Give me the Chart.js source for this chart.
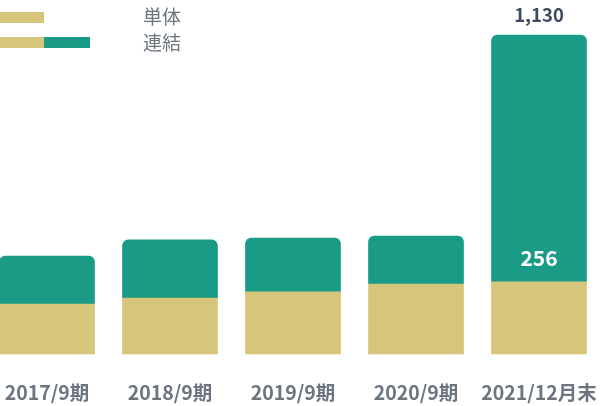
<!DOCTYPE html>
<html>
<head>
<meta charset="utf-8">
<script src="https://cdn.jsdelivr.net/npm/chart.js@4"></script>
<style>
  body { margin: 0; background: #fff; font-family: "Noto Sans CJK JP", "Noto Sans", sans-serif; }
  #wrap { position: relative; width: 600px; height: 406px; }
  .key { position: absolute; left: 0; height: 11px; }
  .key span { display: inline-block; height: 11px; vertical-align: top; }
  .keyText { position: absolute; left: 143px; font-size: 19px; color: #6b7580; line-height: 20px; }
</style>
</head>
<body>
<div id="wrap">
  <canvas id="chart"></canvas>
  <div class="key" style="top:12px"><span style="width:44px;background:#d5c67b"></span></div>
  <div class="key" style="top:37px"><span style="width:44px;background:#d5c67b"></span><span style="width:46px;background:#1a9b85"></span></div>
  <div class="keyText" style="top:6px">単体</div>
  <div class="keyText" style="top:32px">連結</div>
</div>
<script>
// values
const periods = ["2017/9期", "2018/9期", "2019/9期", "2020/9期", "2021/12月末"];
const single = [177, 198, 220, 248, 256];      // 単体
const groupExtra = [170, 206, 191, 170, 874];  // 連結 - 単体

const khaki = "#d5c67b";
const teal = "#1a9b85";

// labels on the last bar
const labelPlugin = {
    id: "barLabels",
    afterDatasetsDraw(chart) {
        const ctx = chart.ctx;
        const last = periods.length - 1;
        const topBar = chart.getDatasetMeta(1).data[last];
        const total = single[last] + groupExtra[last];
        ctx.save();
        ctx.textAlign = "center";
        ctx.textBaseline = "middle";
        ctx.font = "bold 18.5px 'Noto Sans CJK JP', 'Noto Sans', sans-serif";
        ctx.fillStyle = "#3d4b5c";
        ctx.fillText(total.toLocaleString("en-US"), topBar.x, topBar.y - 20);
        const botBar = chart.getDatasetMeta(0).data[last];
        ctx.font = "bold 21px 'Noto Sans CJK JP', 'Noto Sans', sans-serif";
        ctx.fillStyle = "#ffffff";
        ctx.fillText(String(single[last]), botBar.x, botBar.y - 24);
        ctx.restore();
    }
};

const ctx = document.getElementById("chart").getContext("2d");
let chart = new Chart(ctx, {
    type: "bar",
    data: {
        labels: periods,
        datasets: [{
            label: "単体",
            data: single,
            backgroundColor: khaki,
            barThickness: 95,
            borderRadius: 0,
            clip: false
        }, {
            label: "連結",
            data: groupExtra,
            backgroundColor: teal,
            barThickness: 95,
            borderRadius: { topLeft: 6, topRight: 6, bottomLeft: 0, bottomRight: 0 },
            borderSkipped: false,
            clip: false
        }]
    },
    options: {
        responsive: true,
        maintainAspectRatio: false,
        animation: false,
        layout: { padding: { left: 47, right: 61, top: 35, bottom: 0 } },
        plugins: {
            legend: { display: false },
            tooltip: { enabled: false }
        },
        scales: {
            x: {
                stacked: true,
                offset: false,
                grid: { display: false, drawTicks: false },
                border: { display: false },
                afterFit(scale) {
                    // keep the plot area where the bars are, labels may hang over
                    scale.paddingLeft = 0;
                    scale.paddingRight = 0;
                    scale.height = 52;
                },
                ticks: {
                    color: "#6b7580",
                    padding: 27,
                    maxRotation: 0,
                    autoSkip: false,
                    font: { size: 19.5, weight: "bold", family: "'Noto Sans CJK JP', 'Noto Sans', sans-serif" }
                }
            },
            y: {
                stacked: true,
                display: false,
                min: 0,
                max: 1130
            }
        }
    },
    plugins: [labelPlugin]
});
</script>
</body>
</html>
